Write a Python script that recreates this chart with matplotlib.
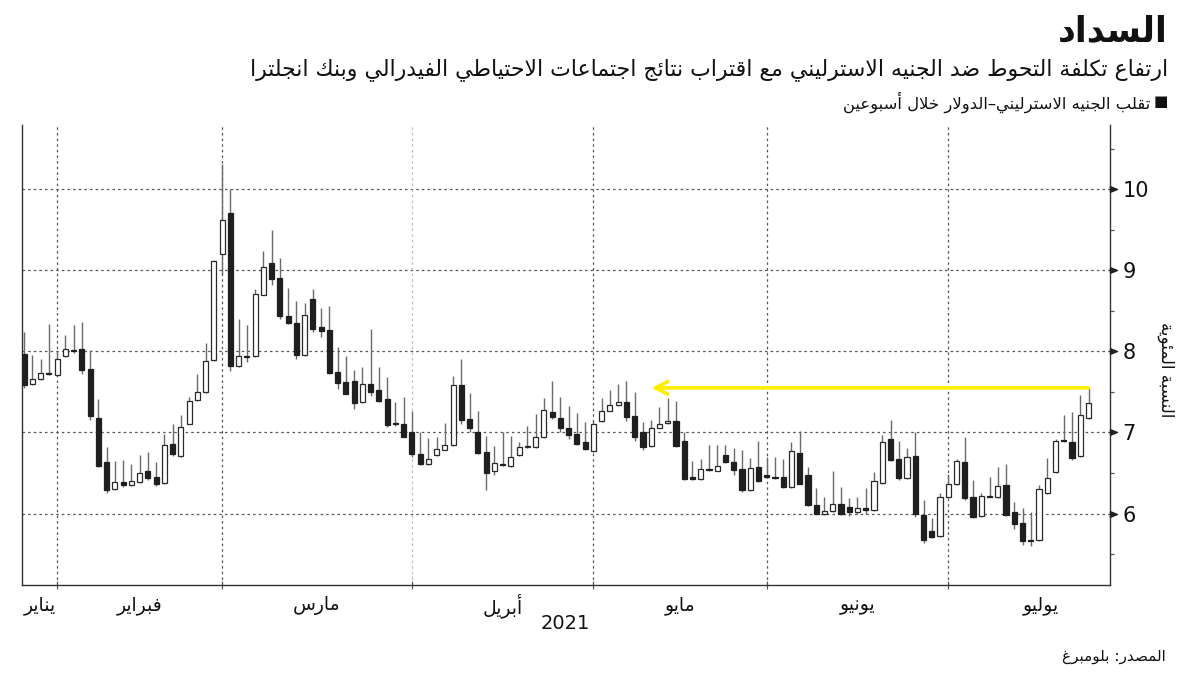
import matplotlib
matplotlib.use("Agg")
import matplotlib.pyplot as plt
from matplotlib.path import Path
from matplotlib.markers import MarkerStyle
import matplotlib.transforms as mtransforms
import numpy as np

plt.rcParams['font.family'] = ['DejaVu Sans']

# ---------------- data ----------------
opens = [7.97, 7.60, 7.66, 7.73, 7.71, 7.94, 8.02, 8.03, 7.78, 7.18,
         6.63, 6.30, 6.39, 6.35, 6.39, 6.52, 6.45, 6.38, 6.86, 6.71,
         7.11, 7.40, 7.50, 7.89, 9.20, 9.71, 7.82, 7.94, 7.94, 8.70,
         9.09, 8.90, 8.44, 8.35, 7.95, 8.65, 8.30, 8.26, 7.74, 7.62,
         7.64, 7.37, 7.60, 7.52, 7.41, 7.11, 7.11, 7.00, 6.74, 6.61,
         6.72, 6.79, 6.84, 7.58, 7.16, 7.01, 6.76, 6.52, 6.61, 6.59,
         6.72, 6.82, 6.82, 6.94, 7.25, 7.18, 7.05, 6.98, 6.88, 6.77,
         7.14, 7.27, 7.34, 7.37, 7.20, 7.01, 6.83, 7.06, 7.12, 7.14,
         6.90, 6.45, 6.43, 6.55, 6.53, 6.72, 6.64, 6.55, 6.29, 6.57,
         6.47, 6.45, 6.45, 6.33, 6.75, 6.47, 6.10, 6.00, 6.03, 6.12,
         6.08, 6.02, 6.07, 6.04, 6.38, 6.92, 6.67, 6.44, 6.71, 5.98,
         5.78, 5.72, 6.20, 6.36, 6.63, 6.20, 5.97, 6.22, 6.20, 6.35,
         6.02, 5.88, 5.67, 5.67, 6.25, 6.51, 6.90, 6.88, 6.71, 7.18]
highs = [8.24, 7.96, 7.91, 8.34, 8.00, 8.20, 8.33, 8.36, 8.02, 7.41,
         6.82, 6.65, 6.66, 6.61, 6.72, 6.76, 6.64, 6.98, 7.11, 7.22,
         7.44, 7.72, 8.10, 9.13, 10.31, 10.00, 8.40, 8.33, 8.77, 9.24,
         9.50, 9.15, 8.78, 8.62, 8.60, 8.77, 8.53, 8.56, 8.05, 7.94,
         7.77, 7.81, 8.28, 7.81, 7.68, 7.38, 7.44, 7.27, 7.00, 6.93,
         6.95, 7.12, 7.70, 7.91, 7.49, 7.27, 6.96, 6.83, 7.00, 6.96,
         6.88, 7.08, 7.23, 7.42, 7.63, 7.44, 7.33, 7.24, 7.13, 7.14,
         7.42, 7.52, 7.60, 7.64, 7.50, 7.13, 7.15, 7.31, 7.43, 7.39,
         7.00, 6.65, 6.67, 6.84, 6.84, 6.84, 6.81, 6.79, 6.68, 6.89,
         6.70, 6.70, 6.67, 6.88, 7.02, 6.58, 6.31, 6.20, 6.53, 6.33,
         6.19, 6.20, 6.31, 6.51, 6.97, 7.15, 6.89, 6.81, 7.01, 6.17,
         5.94, 6.25, 6.49, 6.67, 6.94, 6.42, 6.25, 6.45, 6.58, 6.61,
         6.14, 6.07, 6.02, 6.35, 6.69, 6.92, 7.22, 7.25, 7.46, 7.55]
lows = [7.55, 7.58, 7.65, 7.71, 7.69, 7.93, 7.98, 7.72, 7.15, 6.57,
        6.26, 6.29, 6.33, 6.34, 6.38, 6.41, 6.34, 6.37, 6.71, 6.70,
        7.10, 7.39, 7.49, 7.88, 8.95, 7.76, 7.81, 7.87, 7.93, 8.69,
        8.82, 8.40, 8.34, 7.91, 7.94, 8.24, 8.18, 7.72, 7.54, 7.47,
        7.29, 7.36, 7.45, 7.38, 7.07, 7.08, 6.94, 6.70, 6.60, 6.60,
        6.71, 6.78, 6.83, 7.10, 7.00, 6.74, 6.29, 6.48, 6.59, 6.58,
        6.71, 6.81, 6.81, 6.93, 7.17, 7.00, 6.92, 6.85, 6.78, 6.76,
        7.13, 7.26, 7.33, 7.14, 6.90, 6.79, 6.82, 7.05, 7.10, 6.82,
        6.42, 6.42, 6.42, 6.53, 6.52, 6.62, 6.47, 6.27, 6.28, 6.39,
        6.44, 6.43, 6.31, 6.32, 6.36, 6.09, 5.99, 5.98, 6.02, 5.98,
        5.97, 5.99, 5.99, 6.03, 6.37, 6.65, 6.41, 6.43, 5.96, 5.64,
        5.70, 5.71, 6.19, 6.35, 6.17, 5.95, 5.96, 6.20, 6.19, 5.97,
        5.81, 5.61, 5.60, 5.66, 6.24, 6.50, 6.88, 6.66, 6.70, 7.17]
closes = [7.59, 7.66, 7.73, 7.72, 7.90, 8.03, 8.01, 7.77, 7.20, 6.59,
          6.29, 6.39, 6.35, 6.40, 6.50, 6.44, 6.36, 6.85, 6.73, 7.07,
          7.39, 7.50, 7.88, 9.11, 9.62, 7.82, 7.94, 7.93, 8.71, 9.04,
          8.89, 8.43, 8.35, 7.96, 8.45, 8.28, 8.25, 7.73, 7.61, 7.48,
          7.36, 7.60, 7.50, 7.39, 7.09, 7.10, 6.95, 6.74, 6.61, 6.67,
          6.80, 6.85, 7.58, 7.15, 7.05, 6.75, 6.50, 6.62, 6.60, 6.70,
          6.82, 6.83, 6.94, 7.28, 7.19, 7.05, 6.97, 6.86, 6.80, 7.11,
          7.27, 7.34, 7.37, 7.19, 6.94, 6.82, 7.06, 7.11, 7.14, 6.83,
          6.43, 6.43, 6.55, 6.54, 6.59, 6.64, 6.54, 6.29, 6.56, 6.40,
          6.45, 6.44, 6.33, 6.77, 6.37, 6.10, 6.00, 6.03, 6.12, 6.00,
          6.02, 6.07, 6.04, 6.40, 6.88, 6.66, 6.44, 6.70, 5.99, 5.68,
          5.71, 6.20, 6.36, 6.65, 6.19, 5.96, 6.22, 6.21, 6.34, 5.98,
          5.87, 5.66, 5.66, 6.30, 6.44, 6.89, 6.89, 6.69, 7.21, 7.36]

month_labels = ["يناير", "فبراير", "مارس", "أبريل", "مايو", "يونيو", "يوليو"]
month_start_idx = [4, 24, 47, 69, 90, 112]   # first candle of each month
year_label = "2021"
y_ticks = [6, 7, 8, 9, 10]
arrow_target_idx = 76

title = "السداد"
subtitle = "ارتفاع تكلفة التحوط ضد الجنيه الاسترليني مع اقتراب نتائج اجتماعات الاحتياطي الفيدرالي وبنك انجلترا"
legend_text = "تقلب الجنيه الاسترليني–الدولار خلال أسبوعين"
y_label = "النسبة المئوية"
source = "المصدر: بلومبرغ"

# ---------------- Arabic shaping (presentation forms + visual order) ----------------
DUAL = {0x0626: 0xFE89, 0x0628: 0xFE8F, 0x062A: 0xFE95, 0x062B: 0xFE99, 0x062C: 0xFE9D,
        0x062D: 0xFEA1, 0x062E: 0xFEA5, 0x0633: 0xFEB1, 0x0634: 0xFEB5, 0x0635: 0xFEB9,
        0x0636: 0xFEBD, 0x0637: 0xFEC1, 0x0638: 0xFEC5, 0x0639: 0xFEC9, 0x063A: 0xFECD,
        0x0641: 0xFED1, 0x0642: 0xFED5, 0x0643: 0xFED9, 0x0644: 0xFEDD, 0x0645: 0xFEE1,
        0x0646: 0xFEE5, 0x0647: 0xFEE9, 0x064A: 0xFEF1}
RIGHT = {0x0622: 0xFE81, 0x0623: 0xFE83, 0x0624: 0xFE85, 0x0625: 0xFE87, 0x0627: 0xFE8D,
         0x0629: 0xFE93, 0x062F: 0xFEA9, 0x0630: 0xFEAB, 0x0631: 0xFEAD, 0x0632: 0xFEAF,
         0x0648: 0xFEED, 0x0649: 0xFEEF}
NONJOIN = {0x0621: 0xFE80}
LAMALEF = {0x0622: 0xFEF5, 0x0623: 0xFEF7, 0x0625: 0xFEF9, 0x0627: 0xFEFB}


def ar(s):
    toks = []
    i = 0
    while i < len(s):
        c = ord(s[i])
        if c == 0x0644 and i + 1 < len(s) and ord(s[i + 1]) in LAMALEF:
            toks.append(('LA', ord(s[i + 1])))
            i += 2
        else:
            toks.append(('C', c))
            i += 1

    def joins_next(t):
        return t[0] == 'C' and t[1] in DUAL

    def joining(t):
        return t[0] == 'LA' or t[1] in DUAL or t[1] in RIGHT

    out = []
    for j, t in enumerate(toks):
        k, c = t
        prev = toks[j - 1] if j > 0 else None
        nxt = toks[j + 1] if j + 1 < len(toks) else None
        jp = prev is not None and joins_next(prev) and joining(t)
        if k == 'LA':
            out.append(chr(LAMALEF[c] + (1 if jp else 0)))
        elif c in DUAL:
            jn = nxt is not None and joining(nxt)
            b = DUAL[c]
            out.append(chr(b + 3 if (jp and jn) else b + 1 if jp else b + 2 if jn else b))
        elif c in RIGHT:
            out.append(chr(RIGHT[c] + (1 if jp else 0)))
        elif c in NONJOIN:
            out.append(chr(NONJOIN[c]))
        else:
            out.append(chr(c))
    return ''.join(reversed(out))


# ---------------- figure ----------------
W, H = 1200, 675
fig = plt.figure(figsize=(12, 6.75), dpi=100)
fig.patch.set_facecolor('white')
ax = fig.add_axes([22 / W, 1 - 585 / H, (1110 - 22) / W, (585 - 125) / H])

o = np.array(opens); h = np.array(highs); l = np.array(lows); c = np.array(closes)
x = np.arange(len(o))
up = c >= o

ax.vlines(x, l, h, color='#6a6a6a', linewidth=1.0, zorder=2)
body_bottom = np.minimum(o, c)
body_h = np.maximum(np.abs(c - o), 0.012)
ax.bar(x[up], body_h[up], bottom=body_bottom[up], width=0.62,
       facecolor='white', edgecolor='#2a2a2a', linewidth=0.9, zorder=3)
ax.bar(x[~up], body_h[~up], bottom=body_bottom[~up], width=0.62,
       facecolor='#1f1f1f', edgecolor='#1f1f1f', linewidth=0.9, zorder=3)

xmin, xmax = -0.25, 131.6
ax.set_xlim(xmin, xmax)
ax.set_ylim(5.12, 10.79)

# grid
for yv in y_ticks:
    ax.axhline(yv, color='#555555', linestyle=(0, (2, 2.5)), linewidth=0.9, zorder=1)
for k, mi in enumerate(month_start_idx):
    col = '#bdbdbd' if k == 2 else '#555555'
    ax.axvline(mi, color=col, linestyle=(0, (2, 2.5)), linewidth=0.9, zorder=1)

# spines
ax.spines['top'].set_visible(False)
for s in ['left', 'right', 'bottom']:
    ax.spines[s].set_color('#333333')
    ax.spines[s].set_linewidth(1.0)

# y axis on right
ax.yaxis.tick_right()
ax.set_yticks(y_ticks)
ax.set_yticklabels([str(v) for v in y_ticks])
ax.tick_params(axis='y', which='major', length=0, pad=9, labelsize=15, labelcolor='#111111')
ax.set_yticks([v + 0.5 for v in [5] + y_ticks], minor=True)
ax.tick_params(axis='y', which='minor', length=3, width=0.9, color='#555555', direction='out')

tri = Path([(0, -0.4), (1, 0), (0, 0.4), (0, -0.4)],
           [Path.MOVETO, Path.LINETO, Path.LINETO, Path.CLOSEPOLY])
blend = mtransforms.blended_transform_factory(ax.transAxes, ax.transData)
ax.plot([1.0] * len(y_ticks), y_ticks, linestyle='none', marker=MarkerStyle(tri),
        markersize=10, color='#222222', transform=blend, clip_on=False, zorder=5)

# x axis
ax.set_xticks(month_start_idx)
ax.set_xticklabels([])
ax.tick_params(axis='x', which='major', length=6, direction='inout', color='#555555')

bounds = [xmin] + month_start_idx + [134.5]
xblend = mtransforms.blended_transform_factory(ax.transData, ax.transAxes)
for k, lab in enumerate(month_labels):
    xc = (bounds[k] + bounds[k + 1]) / 2
    ax.text(xc, -0.045, ar(lab), transform=xblend, ha='center', va='center',
            fontsize=13.5, color='#111111')
ax.text(month_start_idx[3] - 0.4, -0.083, year_label, transform=xblend, ha='right',
        va='center', fontsize=14, color='#111111')

# y label
fig.text(1166 / W, 1 - 370 / H, ar(y_label), rotation=270, ha='center', va='center',
         fontsize=12, color='#111111')

# yellow arrow
ax.annotate('', xy=(arrow_target_idx, highs[-1]), xytext=(x[-1], highs[-1]),
            arrowprops=dict(arrowstyle='->,head_length=0.9,head_width=0.45',
                            color='#ffee00', linewidth=2.6, shrinkA=0, shrinkB=0),
            zorder=6)

# titles
fig.text(1168 / W, 1 - 31 / H, ar(title), ha='right', va='center', fontsize=25,
         fontweight='bold', color='#111111')
fig.text(1168 / W, 1 - 70 / H, ar(subtitle), ha='right', va='center', fontsize=15.8,
         color='#111111')
fig.text(1150 / W, 1 - 102 / H, ar(legend_text), ha='right', va='center', fontsize=11.8,
         color='#111111')
fig.text(1168 / W, 1 - 102 / H, "■", ha='right', va='center', fontsize=11,
         color='#111111')
fig.text(1166 / W, 1 - 657 / H, ar(source), ha='right', va='center', fontsize=11,
         color='#111111')

fig.savefig('out.png', dpi=100, facecolor='white')
